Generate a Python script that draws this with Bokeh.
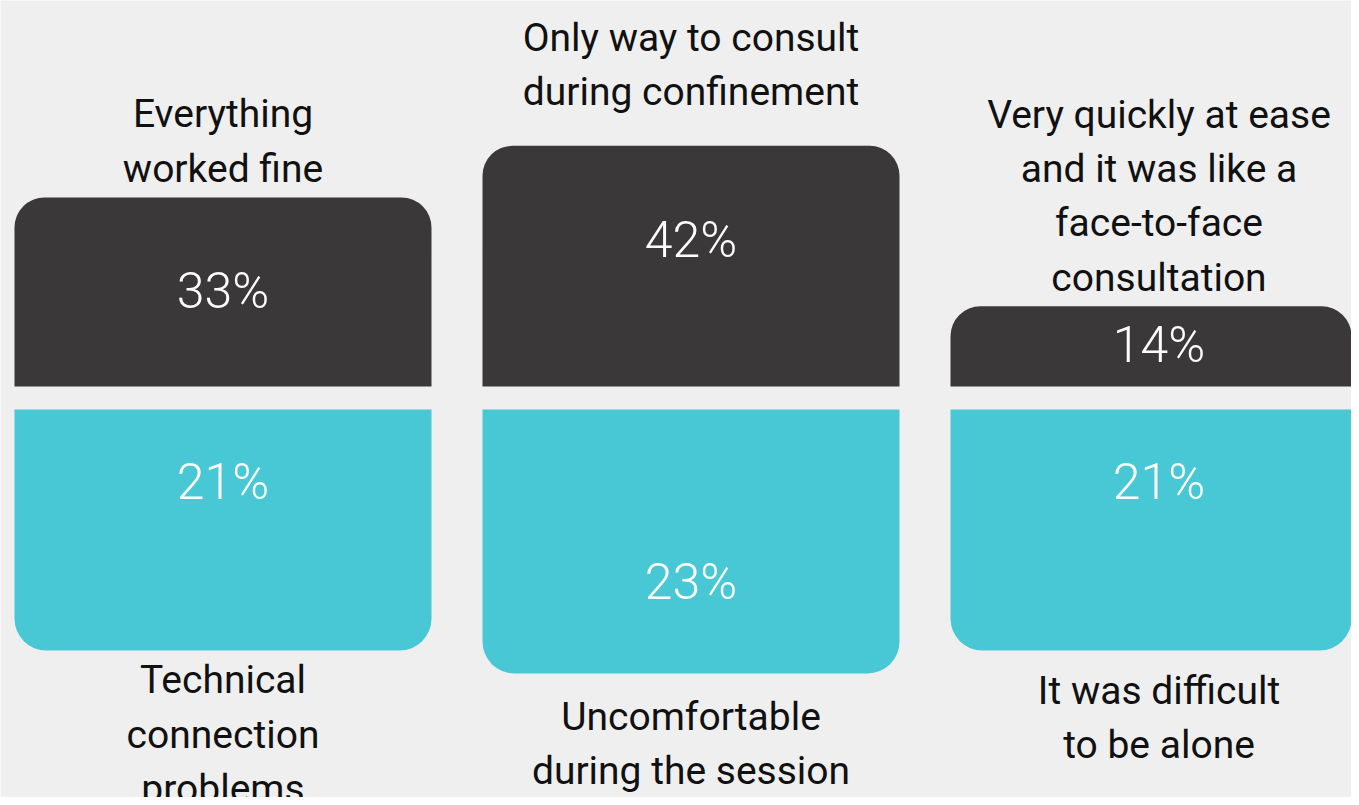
import numpy as np
from bokeh.plotting import figure
from bokeh.models import Range1d, ColumnDataSource
from bokeh.core.properties import value
from bokeh.embed import file_html
from bokeh.resources import INLINE

# ---- data ----
top_labels = ["Everything\nworked fine",
              "Only way to consult\nduring confinement",
              "Very quickly at ease\nand it was like a\nface-to-face\nconsultation"]
bottom_labels = ["Technical\nconnection\nproblems",
                 "Uncomfortable\nduring the session",
                 "It was difficult\nto be alone"]
top_values = [33, 42, 14]
bottom_values = [21, 23, 21]
top_text = ["33%", "42%", "14%"]
bottom_text = ["21%", "23%", "21%"]
# label anchors (value units of each half)
top_pct_anchor = [16.7, 25.6, 7.3]
bottom_pct_anchor = [6.35, 15.05, 6.35]
top_label_anchor = [34.0, 47.3, 15.0]
bottom_label_anchor = [21.6, 24.75, 22.5]

DARK = "#3a3839"
TEAL = "#48c7d4"
BG = "#efefef"

idx = np.arange(len(top_values))

p = figure(width=1351, height=797, output_backend="svg", toolbar_location=None,
           x_range=Range1d(-0.4754, 2.4113), y_range=Range1d(-71.73, 67.36),
           min_border=0, background_fill_color=BG, border_fill_color=BG,
           outline_line_color=None)
p.extra_y_ranges = {"neg": Range1d(-33.80, 35.63)}
p.xaxis.visible = False
p.yaxis.visible = False
p.grid.visible = False

src = ColumnDataSource(dict(
    x=idx,
    top=top_values,
    neg=[-v for v in bottom_values],
    top_text=top_text,
    bottom_text=bottom_text,
    top_pct=top_pct_anchor,
    bottom_pct=[-v for v in bottom_pct_anchor],
    top_label=top_labels,
    bottom_label=bottom_labels,
    top_label_y=top_label_anchor,
    bottom_label_y=[-v for v in bottom_label_anchor],
))

BAR_W = 0.891
p.vbar(x="x", top="top", bottom=0, width=BAR_W, source=src,
       fill_color=DARK, line_color=None, border_radius=(30, 30, 0, 0))
p.vbar(x="x", top=0, bottom="neg", width=BAR_W, source=src, y_range_name="neg",
       fill_color=TEAL, line_color=None, border_radius=(0, 0, 32, 32))

pct_font = value("Roboto Light")
lab_font = value("Roboto")

p.text(x="x", y="top_pct", text="top_text", source=src,
       text_align="center", text_baseline="middle",
       text_font=pct_font, text_font_size="50px", text_color="white")
p.text(x="x", y="bottom_pct", text="bottom_text", source=src, y_range_name="neg",
       text_align="center", text_baseline="middle",
       text_font=pct_font, text_font_size="50px", text_color="white")

p.text(x="x", y="top_label_y", text="top_label", source=src,
       text_align="center", text_baseline="bottom", text_line_height=1.18,
       text_font=lab_font, text_font_size="39px", text_color="#111111")
p.text(x="x", y="bottom_label_y", text="bottom_label", source=src, y_range_name="neg",
       text_align="center", text_baseline="top", text_line_height=1.18,
       text_font=lab_font, text_font_size="39px", text_color="#111111")

open("out.html", "w").write(file_html(p, INLINE))
